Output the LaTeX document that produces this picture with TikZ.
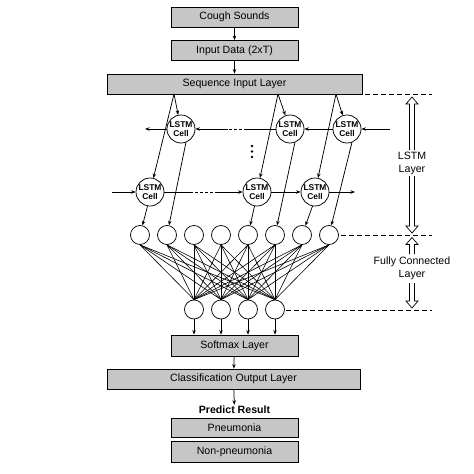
\documentclass[tikz,border=0pt]{standalone}
\usepackage{fontspec}
\setmainfont{Liberation Sans}
\usetikzlibrary{arrows.meta}
\definecolor{boxgray}{RGB}{198,198,198}
\newcommand\hollowup[3]{\draw[line width=0.7pt] (#1-2.5,#3) -- (#1-2.5,#2+7) -- (#1-6,#2+7) -- (#1,#2) -- (#1+6,#2+7) -- (#1+2.5,#2+7) -- (#1+2.5,#3);}
\newcommand\hollowdown[3]{\draw[line width=0.7pt] (#1-2.5,#3) -- (#1-2.5,#2-7) -- (#1-6,#2-7) -- (#1,#2) -- (#1+6,#2-7) -- (#1+2.5,#2-7) -- (#1+2.5,#3);}
\begin{document}
\begin{tikzpicture}[x=1pt,y=-1pt, line width=0.75pt, >={Stealth[length=4.5pt,width=3.5pt]},
  box/.style={draw, fill=boxgray, minimum height=20pt, inner sep=0pt, font=\fontsize{10.6}{12}\selectfont},
  cell/.style={circle, draw, fill=white, minimum size=28pt, inner sep=0pt, align=center, font=\bfseries\fontsize{8.4}{9.5}\selectfont},
  fc/.style={circle, draw, fill=white, minimum size=19pt, inner sep=0pt},
  sidelab/.style={align=center, font=\fontsize{10.6}{13}\selectfont},
  guide/.style={dash pattern=on 5pt off 3pt, line width=0.8pt},
  mesh/.style={line width=0.6pt}]
\useasboundingbox (0,0) rectangle (474,474);

% boxes
\node[box, minimum width=127pt] (cough) at (234.5,17) {Cough Sounds};
\node[box, minimum width=127pt] (inp) at (234.5,50.5) {Input Data (2xT)};
\node[box, minimum width=255pt] (seq) at (234.5,84) {Sequence Input Layer};
\node[box, minimum width=127pt, minimum height=21pt] (soft) at (234.5,345.5) {Softmax Layer};
\node[box, minimum width=253pt] (cls) at (233.5,379) {Classification Output Layer};
\node[font=\bfseries\fontsize{10.6}{12}\selectfont, inner sep=1pt] (pred) at (234.5,410) {Predict Result};
\node[box, minimum width=127pt, minimum height=19pt] (pn) at (234.5,427.5) {Pneumonia};
\node[box, minimum width=127pt, minimum height=21pt] (npn) at (234.5,451.5) {Non-pneumonia};

\draw[->] (cough) -- (inp);
\draw[->] (inp) -- (seq);
\draw[->] (soft) -- (cls);
\draw[->] (cls) -- (pred);

% LSTM cells
\node[cell] (tA) at (181,129) {LSTM\\Cell};
\node[cell] (tB) at (290,129) {LSTM\\Cell};
\node[cell] (tC) at (347,129) {LSTM\\Cell};
\node[cell] (bA) at (150,192) {LSTM\\Cell};
\node[cell] (bB) at (257,192) {LSTM\\Cell};
\node[cell] (bC) at (315,192) {LSTM\\Cell};

% fork points on the sequence input layer
\coordinate (s1) at (174,94);
\coordinate (s2) at (278,94);
\coordinate (s3) at (336,94);
\draw[->] (s1) -- (tA);
\draw[->] (s1) -- (bA);
\draw[->] (s2) -- (tB);
\draw[->] (s2) -- (bB);
\draw[->] (s3) -- (tC);
\draw[->] (s3) -- (bC);

% top row (right to left)
\coordinate (tin) at (390,129);
\coordinate (tout) at (145,129);
\coordinate (tm1) at (247,129);
\coordinate (tm2) at (228,129);
\draw[->] (tin) -- (tC);
\draw[->] (tC) -- (tB);
\draw (tB) -- (tm1);
\draw[dash pattern=on 3pt off 2pt] (tm1) -- (tm2);
\draw[->] (tm2) -- (tA);
\draw[->] (tA) -- (tout);

% bottom row (left to right)
\coordinate (bin) at (112,192);
\coordinate (bout) at (355,192);
\coordinate (bm1) at (190,192);
\coordinate (bm2) at (215,192);
\draw[->] (bin) -- (bA);
\draw (bA) -- (bm1);
\draw[dash pattern=on 3pt off 2pt] (bm1) -- (bm2);
\draw[->] (bm2) -- (bB);
\draw[->] (bB) -- (bC);
\draw[->] (bC) -- (bout);

% vertical dots
\fill (252,146) circle (1.3);
\fill (252,151.5) circle (1.3);
\fill (252,157) circle (1.3);

% fully connected circles
\foreach \i/\x in {1/140,2/167,3/194,4/221,5/248,6/275,7/302,8/329}
  \node[fc] (f\i) at (\x,235) {};
\foreach \j/\x in {1/194,2/221,3/248,4/275}
  \node[fc] (g\j) at (\x,309.5) {};
\foreach \i in {1,...,8}
  \foreach \j in {1,...,4}
    \draw[mesh] (f\i.south) -- (g\j.north);
\foreach \j in {1,...,4}
  \draw[->] (g\j.south) -- (g\j.south |- soft.north);

% cells to fully connected layer
\draw[->] (tA.-70) -- (f2);
\draw[->] (bA.-100) -- (f1);
\draw[->] (tB.-70) -- (f6);
\draw[->] (bB.-100) -- (f5);
\draw[->] (tC.-70) -- (f8);
\draw[->] (bC.-100) -- (f7);

% right-hand guides
\coordinate (r1a) at (365,94);  \coordinate (r1b) at (432,94);
\coordinate (r2a) at (341,235); \coordinate (r2b) at (432,235);
\coordinate (r3a) at (286,310); \coordinate (r3b) at (432,310);
\draw[guide] (r1a) -- (r1b);
\draw[guide] (r2a) -- (r2b);
\draw[guide] (r3a) -- (r3b);

\node[sidelab] (lstmlab) at (412,163) {LSTM\\Layer};
\node[sidelab] (fclab) at (412,268.5) {Fully Connected\\Layer};
\hollowup{412}{97}{150}
\hollowdown{412}{233}{176}
\hollowup{412}{237.5}{254}
\hollowdown{412}{308}{283}
\end{tikzpicture}
\end{document}
